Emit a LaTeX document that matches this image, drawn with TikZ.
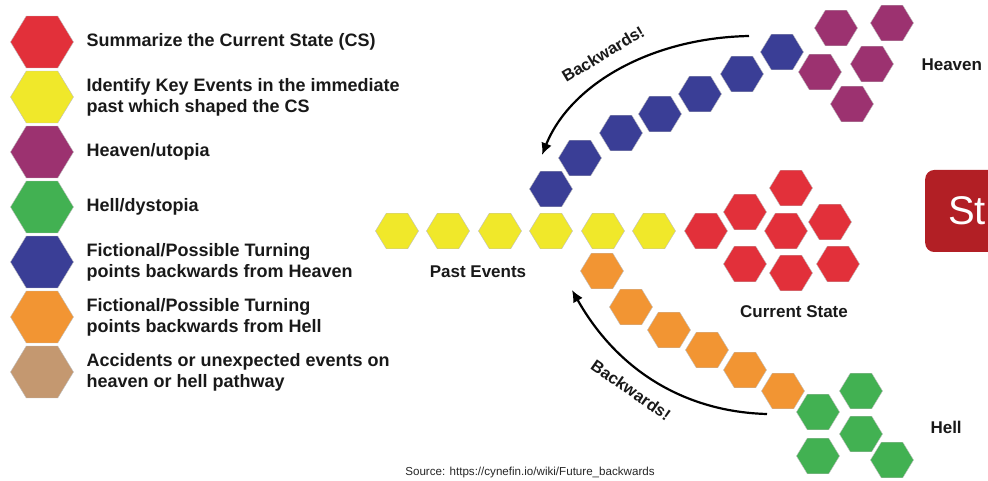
\documentclass[tikz,border=0pt]{standalone}
\usepackage{fontspec}
\setmainfont{Liberation Sans}
\usetikzlibrary{arrows.meta, shapes.geometric}

\definecolor{csred}{HTML}{E2303A}
\definecolor{keyyellow}{HTML}{F0E82A}
\definecolor{heavenpurple}{HTML}{9C3270}
\definecolor{hellgreen}{HTML}{42B152}
\definecolor{heavenblue}{HTML}{3A3E96}
\definecolor{hellorange}{HTML}{F29533}
\definecolor{accidenttan}{HTML}{C49870}
\definecolor{boxred}{HTML}{B21F25}

\begin{document}
\begin{tikzpicture}[
		x=1pt, y=-1pt,
		hex/.style={regular polygon, regular polygon sides=6, draw=black!25, line width=0.4pt, inner sep=0pt, outer sep=0pt, minimum size=41pt, xscale=1.05},
		bighex/.style={hex, minimum size=60pt},
		legend/.style={anchor=west, align=left, text=black!90, font=\bfseries\fontsize{18}{21}\selectfont},
		grouptext/.style={text=black!90, font=\bfseries\fontsize{17}{20}\selectfont},
		backtext/.style={text=black!90, font=\bfseries\fontsize{16.5}{18}\selectfont},
		arrow/.style={-{Latex[length=12pt, width=11pt]}, line width=2.2pt},
		stbox/.style={anchor=west, fill=boxred, rounded corners=9pt, minimum height=82pt, inner xsep=23pt, text=white, font=\fontsize{40}{44}\selectfont}
		]
		\useasboundingbox (0,0) rectangle (988,481);
		\clip (0,0) rectangle (988,481);

		% Legend
		\node[bighex, fill=csred] (lgcs) at (42,42) {};
		\node[bighex, fill=keyyellow] (lgkey) at (42,97) {};
		\node[bighex, fill=heavenpurple] (lgheaven) at (42,152) {};
		\node[bighex, fill=hellgreen] (lghell) at (42,207) {};
		\node[bighex, fill=heavenblue] (lgturnup) at (42,262) {};
		\node[bighex, fill=hellorange] (lgturndown) at (42,317) {};
		\node[bighex, fill=accidenttan] (lgaccident) at (42,372) {};

		\node[legend] (txcs) at (83,42) {Summarize the Current State (CS)};
		\node[legend] (txkey) at (83,97) {Identify Key Events in the immediate\\past which shaped the CS};
		\node[legend] (txheaven) at (83,152) {Heaven/utopia};
		\node[legend] (txhell) at (83,207) {Hell/dystopia};
		\node[legend] (txturnup) at (83,262) {Fictional/Possible Turning\\points backwards from Heaven};
		\node[legend] (txturndown) at (83,317) {Fictional/Possible Turning\\points backwards from Hell};
		\node[legend] (txaccident) at (83,372) {Accidents or unexpected events on\\heaven or hell pathway};

		% Hexagon chains
		\foreach \px [count=\i] in {397,448,500,551,603,654}
			\node[hex, fill=keyyellow] (past\i) at (\px,231) {};
		\foreach \px/\py [count=\i] in {551/189,580/158,621/133,660/114,700/94,742/74,782/52}
			\node[hex, fill=heavenblue] (up\i) at (\px,\py) {};
		\foreach \px/\py [count=\i] in {836/28,892/23,820/72,872/64,852/104}
			\node[hex, fill=heavenpurple] (heaven\i) at (\px,\py) {};
		\foreach \px/\py [count=\i] in {706/231,745/212,791/188,786/231,830/222,745/264,791/273,838/264}
			\node[hex, fill=csred] (cs\i) at (\px,\py) {};
		\foreach \px/\py [count=\i] in {602/271,631/307,669/330,707/350,745/370,783/391}
			\node[hex, fill=hellorange] (down\i) at (\px,\py) {};
		\foreach \px/\py [count=\i] in {818/412,861/391,861/434,818/456,892/460}
			\node[hex, fill=hellgreen] (hell\i) at (\px,\py) {};

		% Labels
		\node[grouptext, anchor=west] (heavenlbl) at (918,65) {Heaven};
		\node[grouptext] (pastlbl) at (478,272) {Past Events};
		\node[grouptext] (cslbl) at (794,312) {Current State};
		\node[grouptext, anchor=west] (helllbl) at (927,427) {Hell};
		\node[stbox] (start) at (925,211) {St};

		% Arrows
		\coordinate (upfrom) at (749,36);
		\coordinate (upto) at (542,155);
		\coordinate (downfrom) at (767,414);
		\coordinate (downto) at (572,290);
		\draw[arrow] (upfrom) .. controls (650,38) and (570,85) .. (upto);
		\draw[arrow] (downfrom) .. controls (690,412) and (620,375) .. (downto);
		\node[backtext, rotate=31] (upback) at (603,54) {Backwards!};
		\node[backtext, rotate=-35] (downback) at (631,390) {Backwards!};

		\node[font=\fontsize{11.6}{13}\selectfont, text=black!85] (source) at (530,472) {Source: https://cynefin.io/wiki/Future\_backwards};

	\end{tikzpicture}
\end{document}
